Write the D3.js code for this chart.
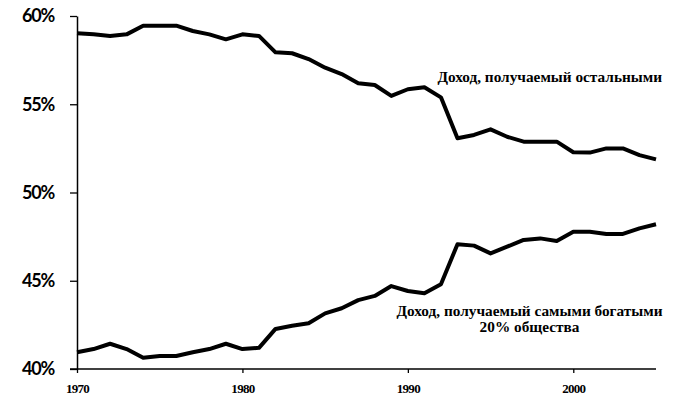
<!DOCTYPE html>
<html><head><meta charset="utf-8">
<script src="https://cdn.jsdelivr.net/npm/d3@7"></script>
<style>body{margin:0;background:#fff}svg{display:block}</style>
</head><body>
<svg id="c" width="680" height="410"></svg>
<script>
const years = d3.range(1970, 2006);
const restShare = [59.02,58.96,58.87,58.96,59.45,59.45,59.45,59.15,58.96,58.68,58.96,58.87,57.94,57.89,57.56,57.07,56.71,56.19,56.09,55.47,55.85,55.96,55.39,53.07,53.26,53.58,53.16,52.88,52.88,52.88,52.28,52.26,52.5,52.5,52.12,51.88];
const richShare = [40.95,41.13,41.43,41.13,40.64,40.74,40.74,40.95,41.13,41.43,41.13,41.2,42.27,42.45,42.59,43.15,43.44,43.9,44.14,44.7,44.42,44.29,44.8,47.07,46.99,46.55,46.93,47.31,47.4,47.25,47.78,47.78,47.65,47.65,47.97,48.2];
const yTicks = [40,45,50,55,60];
const xTicks = [1970,1980,1990,2000];
const labelRest = "Доход, получаемый остальными";
const labelRich = ["Доход, получаемый самыми богатыми","20% общества"];

const svg = d3.select("#c");
const x = d3.scaleLinear().domain([1970,2005]).range([77,656]);
const y = d3.scaleLinear().domain([40,60]).range([369,16]);

// y axis
const ya = svg.append("g").attr("transform","translate(77,0)")
  .call(d3.axisLeft(y).tickValues(yTicks).tickSize(7).tickSizeOuter(0).tickFormat(d=>d+"%"));
ya.select(".domain").attr("stroke","#000").attr("stroke-width",1.5);
ya.selectAll(".tick line").attr("stroke","#000").attr("stroke-width",1.3);
ya.selectAll(".tick text").attr("x",-23).attr("text-anchor","end")
  .style("font-family","Lato, 'Open Sans', sans-serif").style("font-size","18px").style("font-weight","bold")
  .style("letter-spacing","-1.2px").attr("fill","#000");

// x axis
const xa = svg.append("g").attr("transform","translate(0,369)")
  .call(d3.axisBottom(x).tickValues(xTicks).tickSize(4).tickSizeOuter(0).tickFormat(d3.format("d")));
xa.select(".domain").attr("stroke","#000").attr("stroke-width",1.5).attr("d","M70,0H656");
xa.selectAll(".tick line").attr("stroke","#000").attr("stroke-width",1.3);
xa.selectAll(".tick text").attr("y",15)
  .style("font-family","'Liberation Serif', serif").style("font-weight","bold").style("font-size","13px")
  .style("letter-spacing","-0.7px").attr("fill","#000");

const line = d3.line().x((d,i)=>x(years[i])).y(d=>y(d));
[restShare, richShare].forEach(s=>{
  svg.append("path").datum(s).attr("d",line).attr("fill","none")
    .attr("stroke","#000").attr("stroke-width",4).attr("stroke-linejoin","round");
});

const lab = {"font-family":"'Liberation Serif', serif","font-weight":"bold","font-size":"15.3px"};
const t1 = svg.append("text").attr("x",662).attr("y",82).attr("text-anchor","end").text(labelRest);
const t2 = svg.append("text").attr("x",529.5).attr("y",316).attr("text-anchor","middle").text(labelRich[0]);
const t3 = svg.append("text").attr("x",529.5).attr("y",332).attr("text-anchor","middle").text(labelRich[1]);
[t1,t2,t3].forEach(t=>{for(const k in lab) t.style(k,lab[k]); t.attr("fill","#000");});
</script>
</body></html>
